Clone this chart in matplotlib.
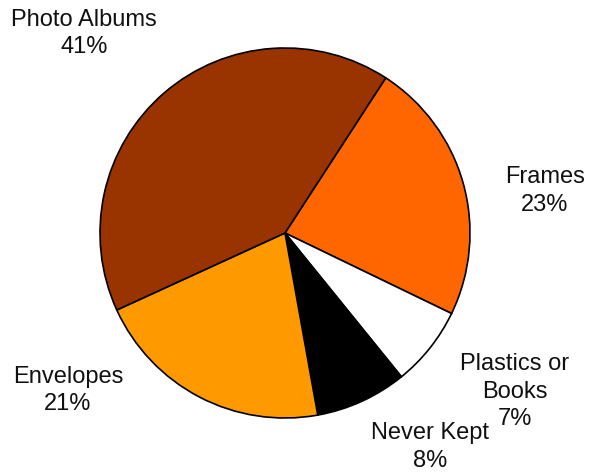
import matplotlib
matplotlib.use("Agg")
import matplotlib.pyplot as plt

categories = ["Frames", "Plastics or\nBooks", "Never Kept", "Envelopes", "Photo Albums"]
shares = [23, 7, 8, 21, 41]
colors = ["#FF6600", "#FFFFFF", "#000000", "#FF9900", "#993300"]

# label anchor points (data units, pie radius = 1)
label_pos = [(1.405, 0.227), (1.243, -0.857), (0.784, -1.157), (-1.173, -0.849), (-1.086, 1.076)]

plt.rcParams["font.family"] = ["Liberation Sans", "DejaVu Sans"]

W, H, DPI = 589, 475, 100
fig = plt.figure(figsize=(W / DPI, H / DPI), dpi=DPI)
ax = fig.add_axes([0, 0, 1, 1])

wedges, _ = ax.pie(
    shares,
    colors=colors,
    startangle=57,
    counterclock=False,
    wedgeprops=dict(edgecolor="black", linewidth=1.2),
)

for name, val, (x, y) in zip(categories, shares, label_pos):
    ax.text(x, y, f"{name}\n{val}%", ha="center", va="center",
            fontsize=17, linespacing=1.3, color="#111111")

# center at (285, 233) px, radius 185 px
cx, cy, R = 285, 233, 185
ax.set_xlim(-cx / R, (W - cx) / R)
ax.set_ylim(-(H - cy) / R, cy / R)
ax.set_aspect("auto")
ax.axis("off")

fig.savefig("out.png", dpi=DPI)
